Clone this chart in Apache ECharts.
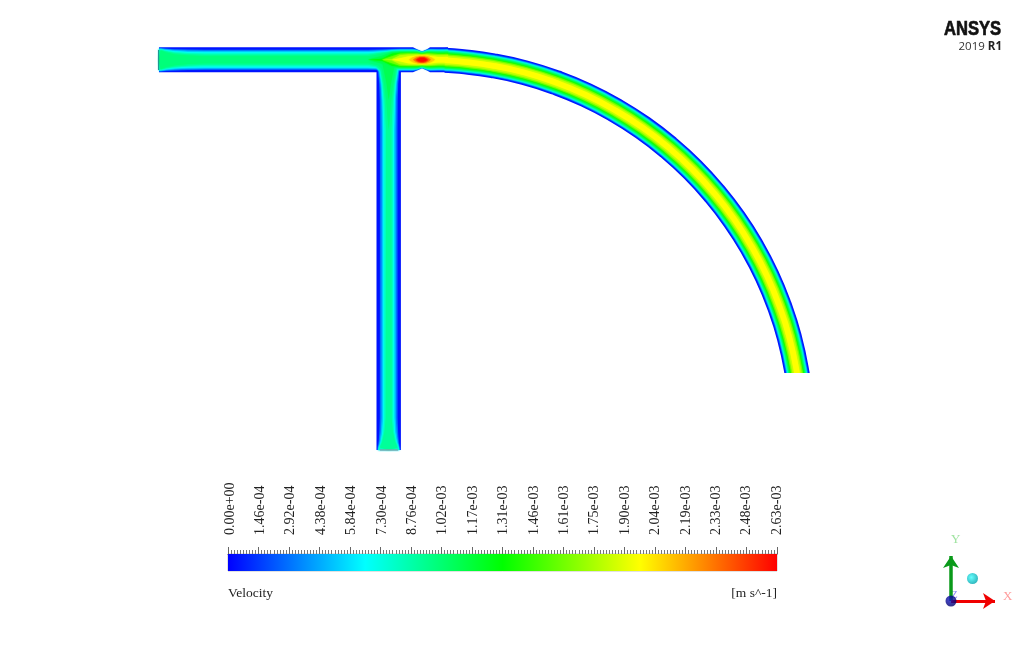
<!DOCTYPE html>
<html>
<head>
<meta charset="utf-8">
<style>html,body{margin:0;padding:0;background:#fff}#c{width:1020px;height:664px}</style>
<script src="https://cdn.jsdelivr.net/npm/echarts@6/dist/echarts.min.js"></script>
</head>
<body>
<div id="c"></div>
<script>
// Colour bar
const tickLabels = ['0.00e+00','1.46e-04','2.92e-04','4.38e-04','5.84e-04','7.30e-04','8.76e-04','1.02e-03','1.17e-03','1.31e-03','1.46e-03','1.61e-03','1.75e-03','1.90e-03','2.04e-03','2.19e-03','2.33e-03','2.48e-03','2.63e-03'];
const tickStep = 0.000146;
const velocityMax = 0.002628;
const rampColors = ['#0000ff','#00ffff','#00ff00','#ffff00','#ff0000'];

// Contour levels of velocity (m/s), read against the colour bar
const contourLevels = [0.00005,0.00026,0.00047,0.00066,0.00079,0.00092,0.00100,0.00110,0.00132,0.00158,0.00179,0.00197];

// Horizontal pipe and throat: half-width of each contour at each station
const pipeAxisY = 59.8;
const hStations = [159,160.5,166,175,188,205,368,382,392,400,408,413,417,422,427,430,438,448];
const hHalfWidths = [
 [12.5,12.5,12.5,12.5,12.5,12.5,12.5,12.5,12.5,12.5,12.5,12.5,10.6,8.4,10.6,12.5,12.5,12.5],
 [11.5,11.5,11,10.6,10.2,10,10,10.3,10.8,10.9,10.9,10.9,10,8,10,10.9,10.7,10.7],
 [11,11,10.2,9.5,9,8.8,8.8,9.2,9.9,10.2,10.2,10.2,9.6,7.7,9.6,10.2,10,10],
 [10.5,10.5,9.5,8.5,7.9,7.6,7.6,8.4,9.2,9.6,9.6,9.6,9.2,7.4,9.2,9.6,9.4,9.4],
 [10,10,8.8,7.6,6.8,6.4,6.4,7.6,8.6,9.1,9.1,9.1,8.8,7.2,8.8,9.1,8.9,8.9],
 [0,9.8,8.2,6.6,5.6,5,5,7,8.2,8.7,8.7,8.7,8.4,7,8.4,8.7,8.4,8.4],
 [0,9.2,7.2,5.4,4.2,3.5,3.5,6,7.8,8.3,8.3,8.3,8,6.8,8,8.3,8,8],
 [0,0,0,0,0,0,0,4,7.5,7.8,7.8,7.8,7.6,6.5,7.6,7.8,7.5,7.5],
 [0,0,0,0,0,0,0,1,6,7,7.1,7.1,7,6,7,7.1,6.8,6.8],
 [0,0,0,0,0,0,0,0,3.5,6,6.2,6.2,6.2,5.5,6.2,6.2,5.8,5.8],
 [0,0,0,0,0,0,0,0,0.5,4.5,5.2,5.2,5.2,5,5.2,5.1,4.5,4.5],
 [0,0,0,0,0,0,0,0,0,1.5,3.4,3.9,4.2,4.5,4.2,3.8,2.8,2.8]
];

// Vertical pipe
const vPipeAxisX = 388.7;
const vStations = [450,447.5,442,432,418,130,100,84,74,62];
const vHalfWidths = [
 [12.2,12.2,12.2,12.2,12.2,12.2,12.2,12.2,12.2,12.2],
 [11,10.5,10,9.4,8.9,8.8,9,9.5,10.3,11],
 [10.8,10.3,9,7.8,7,6.8,7.1,8,9.2,10.5],
 [10.4,9.8,8,6.3,5.5,5.3,6,7,8.6,10],
 [10,9.4,7.3,5.3,4.4,4.2,5.2,6.4,8,9.5],
 [0,8.8,6.5,4.2,2.9,2.6,4,5.6,7.4,9],
 [0,0,0,0,0,0,2.5,4.5,6.2,8],
 [0,0,0,0,0,0,0,2,4,6.5]
];

// Rounding of the contours at the left and right corner of the tee
const teeFillets = [[0,0],[2,1],[4,2],[5,3],[7,4],[8,5],[8,7],[6,9]];

// Curved pipe: centre line and the full width of each contour
const arcCentreX = [445,460.6,492.9,524.8,555.9,586.1,615,642.5,668.4,692.5,714.5,734.4,751.9,767,779.4,789.3,797,800.6];
const arcCentreY = [60.2,61.4,65.7,72.7,82.6,95,110.1,127.6,147.5,169.5,193.6,219.5,247,275.9,306.1,337.2,373,401.4];
const arcWidths = [25,21.4,20,18.8,17.8,16.8,16,15,13.5,11.5,9,5.5];
const arcOutletY = 373;

// Hot spot in the throat
const hotLevels = [0.00210,0.00231,0.00250,0.00261];
const hotStations = [[409,415,422,429,435],[413,417.5,422,426.5,431],[415.5,418.5,422,425.5,428.5],[417,419.5,422,424.5,427]];
const hotHalfWidths = [[0,3.2,3.8,3.2,0],[0,2.5,3.1,2.5,0],[0,1.9,2.5,1.9,0],[0,1.2,1.8,1.2,0]];

// Axis triad
const triadOrigin = [951,601];
const triadXEnd = [995,601];
const triadYEnd = [951,556];
const triadSphere = [972.5,578.5];

function hex(c){return [1,3,5].map(i=>parseInt(c.substr(i,2),16));}
function velocityColor(v){
  const t=Math.min(0.9999,Math.max(0,v/velocityMax))*(rampColors.length-1);
  const i=Math.floor(t),a=hex(rampColors[i]),b=hex(rampColors[i+1]),k=t-i;
  return 'rgb('+a.map((x,j)=>Math.round(x+(b[j]-x)*k)).join(',')+')';
}
function hBand(stations,hw){
  const ix=[];stations.forEach((x,i)=>{ if(hw[i]>0||hw[i-1]>0||hw[i+1]>0) ix.push(i);});
  const top=ix.map(i=>[stations[i],pipeAxisY-hw[i]]);
  const bot=ix.slice().reverse().map(i=>[stations[i],pipeAxisY+hw[i]]);
  return top.concat(bot);
}
function vBand(hw){
  const ix=[];vStations.forEach((y,i)=>{ if(hw[i]>0||hw[i-1]>0||hw[i+1]>0) ix.push(i);});
  const l=ix.map(i=>[vPipeAxisX-hw[i],vStations[i]]);
  const r=ix.slice().reverse().map(i=>[vPipeAxisX+hw[i],vStations[i]]);
  return l.concat(r);
}
const shapes=[];
contourLevels.forEach((v,i)=>{
  const col=velocityColor(v),blur=i>=2?2:0;
  shapes.push({kind:'polygon',color:col,blur,pts:hBand(hStations,hHalfWidths[i])});
  if(vHalfWidths[i]){
    shapes.push({kind:'polygon',color:col,blur,pts:vBand(vHalfWidths[i])});
    const f=teeFillets[i],yk=pipeAxisY+hHalfWidths[i][6],h=vHalfWidths[i][7];
    if(f[0]>0) shapes.push({kind:'polygon',color:col,blur,pts:[[vPipeAxisX-h-f[0],yk],[vPipeAxisX-h+1,yk-1],[vPipeAxisX-h,yk+f[0]]]});
    if(f[1]>0) shapes.push({kind:'polygon',color:col,blur,pts:[[vPipeAxisX+h+f[1],yk],[vPipeAxisX+h-1,yk-1],[vPipeAxisX+h,yk+f[1]]]});
  }
  shapes.push({kind:'arc',color:col,blur,width:arcWidths[i],pts:arcCentreX.map((x,k)=>[x,arcCentreY[k]])});
});
hotLevels.forEach((v,i)=>{
  shapes.push({kind:'polygon',smooth:0.6,color:velocityColor(v),blur:1.5,pts:hBand(hotStations[i],hotHalfWidths[i])});
});

const chart=echarts.init(document.getElementById('c'),null,{renderer:'canvas'});
const serif="'Liberation Serif','Times New Roman',serif";
chart.setOption({
  animation:false,
  backgroundColor:'#ffffff',
  grid:[
    {left:0,top:0,width:1020,height:664,show:false},
    {left:228,top:554,width:549,height:17,show:true,borderColor:'#c4c4c4',borderWidth:1,backgroundColor:'transparent',containLabel:false},
    {left:230,top:554,width:547,height:17,show:false}
  ],
  xAxis:[
    {gridIndex:0,type:'value',min:0,max:1020,show:false},
    {gridIndex:1,type:'value',position:'top',min:0,max:velocityMax,interval:tickStep,
     axisLine:{show:true,lineStyle:{color:'#555',width:1}},
     axisTick:{show:true,inside:false,length:7,lineStyle:{color:'#666',width:1}},
     minorTick:{show:true,splitNumber:10,length:4,lineStyle:{color:'#777',width:1}},
     splitLine:{show:false},minorSplitLine:{show:false},
     axisLabel:{show:false}},
    {gridIndex:2,type:'value',position:'top',min:0,max:velocityMax,interval:tickStep,
     axisLine:{show:false},axisTick:{show:false},splitLine:{show:false},
     axisLabel:{show:true,rotate:90,margin:19,fontFamily:serif,fontSize:14,color:'#222',hideOverlap:false,showMinLabel:true,showMaxLabel:true,
       formatter:(val)=>tickLabels[Math.round(val/tickStep)]}}
  ],
  yAxis:[
    {gridIndex:0,type:'value',min:0,max:664,inverse:true,show:false},
    {gridIndex:1,type:'category',data:['Velocity'],show:false},
    {gridIndex:2,type:'value',min:0,max:1,show:false}
  ],
  series:[
    {type:'custom',xAxisIndex:0,yAxisIndex:0,silent:true,clip:false,z:2,
     data:shapes.map((s,i)=>[i]),
     encode:{x:0},
     renderItem:(params,api)=>{
       const s=shapes[api.value(0)];
       const pts=s.pts.map(p=>api.coord(p));
       const glow=s.blur?{shadowBlur:s.blur,shadowColor:s.color}:{};
       if(s.kind==='arc'){
         return {type:'polyline',shape:{points:pts,smooth:0.5},
           style:Object.assign({stroke:s.color,fill:'none',lineWidth:s.width,lineCap:'butt',lineJoin:'round'},glow),
           clipPath:{type:'rect',shape:{x:0,y:0,width:1020,height:api.coord([0,arcOutletY])[1]}}};
       }
       return {type:'polygon',shape:{points:pts,smooth:s.smooth||0},style:Object.assign({fill:s.color,stroke:null},glow)};
     }},
    {type:'line',xAxisIndex:0,yAxisIndex:0,silent:true,showSymbol:false,z:3,
     data:[[158.6,50],[158.6,70]],lineStyle:{color:'#1e9a90',width:1.2}},
    {type:'line',xAxisIndex:0,yAxisIndex:0,silent:true,showSymbol:false,z:3,
     data:[[380,450],[398,450]],lineStyle:{color:'#8a9aa8',width:1.2}},
    {type:'bar',xAxisIndex:1,yAxisIndex:1,silent:true,barWidth:'100%',data:[velocityMax],
     itemStyle:{color:new echarts.graphic.LinearGradient(0,0,1,0,rampColors.map((c,i)=>({offset:i/(rampColors.length-1),color:c})))}},
    {type:'lines',coordinateSystem:'cartesian2d',xAxisIndex:0,yAxisIndex:0,silent:true,z:4,
     symbol:['none','arrow'],symbolSize:[0,12],
     data:[
       {coords:[triadOrigin,triadYEnd],lineStyle:{color:'#0a9a1a',width:3.5,opacity:1}},
       {coords:[triadOrigin,triadXEnd],lineStyle:{color:'#f00000',width:3,opacity:1}}
     ]},
    {type:'scatter',xAxisIndex:0,yAxisIndex:0,silent:true,z:5,symbolSize:11,
     data:[
       {value:triadOrigin,itemStyle:{color:new echarts.graphic.RadialGradient(0.4,0.4,0.6,[{offset:0,color:'#1414c8'},{offset:1,color:'#00006a'}])}},
       {value:triadSphere,itemStyle:{color:new echarts.graphic.RadialGradient(0.4,0.4,0.6,[{offset:0,color:'#40ffff'},{offset:1,color:'#00a8b0'}])}}
     ]}
  ],
  graphic:[
    {type:'text',left:228,top:586,style:{text:'Velocity',font:'13.5px '+serif,fill:'#222'}},
    {type:'text',right:243,top:586,style:{text:'[m s^-1]',font:'13.5px '+serif,fill:'#222'}},
    {type:'text',x:944,y:19,scaleX:0.79,style:{text:'ANSYS',font:"bold 21px 'Liberation Sans',sans-serif",fill:'#111',stroke:'#111',lineWidth:0.7}},
    {type:'text',right:18,top:41,style:{text:'2019 {b|R1}',font:"11.5px 'Open Sans','Liberation Sans',sans-serif",fill:'#333',rich:{b:{font:"bold 11.5px 'Open Sans','Liberation Sans',sans-serif",fill:'#222'}}}},
    {type:'text',left:1003,top:590,style:{text:'X',font:'13px '+serif,fill:'#ff9c9c'}},
    {type:'text',left:951,top:533,style:{text:'Y',font:'13px '+serif,fill:'#9fe3a0'}},
    {type:'text',left:951,top:590,style:{text:'Z',font:'11px '+serif,fill:'#8f8ff5'}}
  ]
});
</script>
</body>
</html>
